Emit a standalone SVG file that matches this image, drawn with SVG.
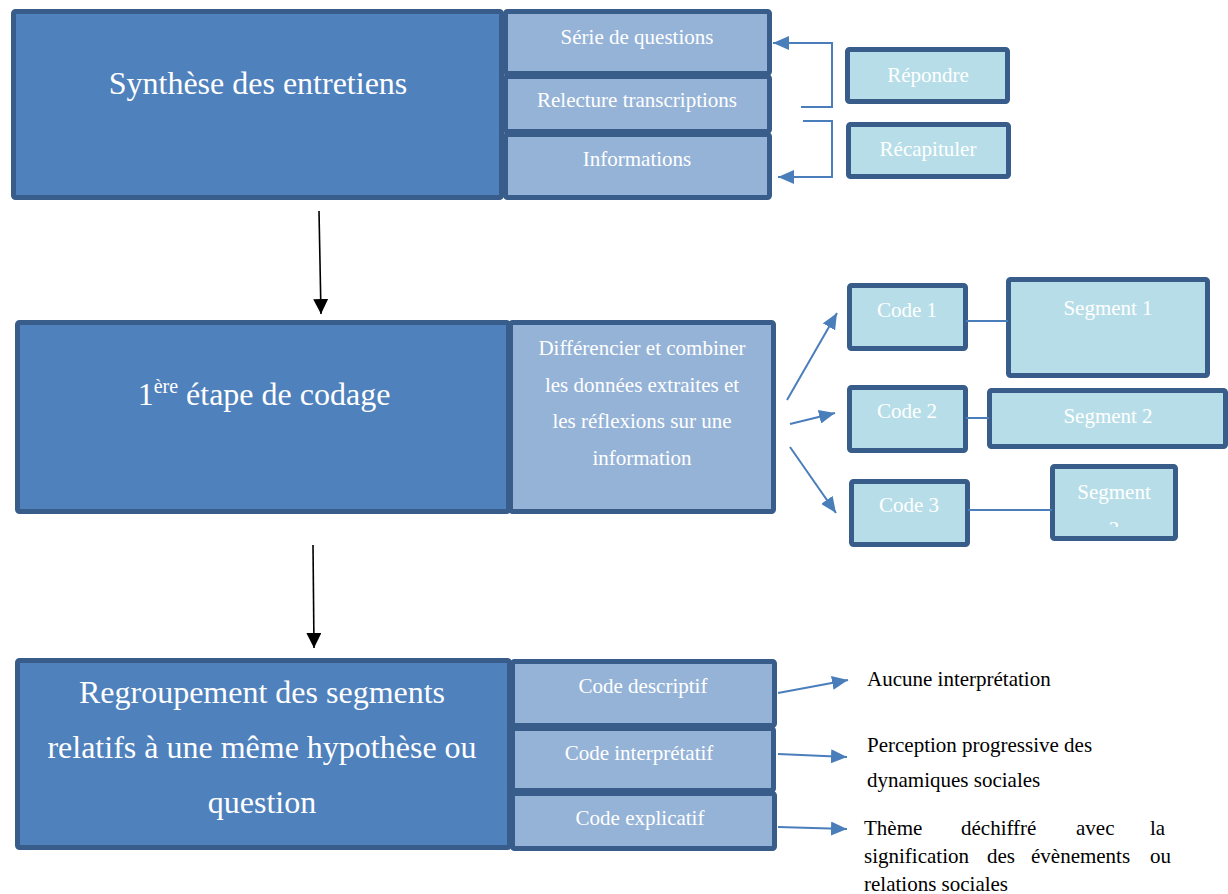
<svg xmlns="http://www.w3.org/2000/svg" width="1228" height="894" viewBox="0 0 1228 894">
<defs>
<style>
.main{fill:#4F81BD;stroke:#385D8A;stroke-width:5}
.sub{fill:#95B3D7;stroke:#385D8A;stroke-width:5}
.lite{fill:#B7DEE8;stroke:#385D8A;stroke-width:5}
text{font-family:"Liberation Serif","Times New Roman",serif}
.big{font-size:32px;fill:#FFFFFF;text-anchor:middle}
.wt{font-size:21px;fill:#FFFFFF;text-anchor:middle}
.bk{font-size:21px;fill:#000000}
.blue{stroke:#4A7EBB;stroke-width:2;fill:none}
.blk{stroke:#000000;stroke-width:1.6;fill:none}
</style>
<marker id="ab" viewBox="0 0 16 14" markerWidth="16" markerHeight="14" refX="16" refY="7" orient="auto" markerUnits="userSpaceOnUse">
<path d="M0,0 L16,7 L0,14 z" fill="#4A7EBB"/>
</marker>
<marker id="ak" viewBox="0 0 15 15" markerWidth="15" markerHeight="15" refX="15" refY="7.5" orient="auto" markerUnits="userSpaceOnUse">
<path d="M0,0 L15,7.5 L0,15 z" fill="#000000"/>
</marker>
<clipPath id="seg3clip"><rect x="1050" y="464" width="130" height="63"/></clipPath>
</defs>

<g id="synthese">
<rect class="main" x="13.5" y="11.5" width="488" height="186" rx="2"/>
<text class="big" x="258" y="94">Synthèse des entretiens</text>
</g>
<g id="serie">
<rect class="sub" x="505.5" y="11.5" width="264" height="62" rx="2"/>
<text class="wt" x="637" y="44">Série de questions</text>
</g>
<g id="relecture">
<rect class="sub" x="505.5" y="76.5" width="264" height="55" rx="2"/>
<text class="wt" x="637" y="107">Relecture transcriptions</text>
</g>
<g id="informations">
<rect class="sub" x="505.5" y="134.5" width="264" height="63" rx="2"/>
<text class="wt" x="637" y="166">Informations</text>
</g>
<g id="repondre">
<rect class="lite" x="847.5" y="49.5" width="160" height="52" rx="2"/>
<text class="wt" x="928" y="82">Répondre</text>
</g>
<g id="recapituler">
<rect class="lite" x="848.5" y="124.5" width="160" height="52" rx="2"/>
<text class="wt" x="928" y="156">Récapituler</text>
</g>

<g id="etape1">
<rect class="main" x="17.5" y="322.5" width="491" height="189" rx="2"/>
<text class="big" x="264" y="405">1<tspan font-size="20" dy="-12">ère</tspan><tspan dy="12"> étape de codage</tspan></text>
</g>
<g id="differencier">
<rect class="sub" x="510.5" y="322.5" width="263" height="189" rx="2"/>
<text class="wt" x="642" y="355">Différencier et combiner</text>
<text class="wt" x="642" y="392">les données extraites et</text>
<text class="wt" x="642" y="428">les réflexions sur une</text>
<text class="wt" x="642" y="465">information</text>
</g>
<g id="code1">
<rect class="lite" x="849.5" y="285.5" width="116" height="63" rx="2"/>
<text class="wt" x="907" y="317">Code 1</text>
</g>
<g id="code2">
<rect class="lite" x="849.5" y="387.5" width="116" height="63" rx="2"/>
<text class="wt" x="907" y="418">Code 2</text>
</g>
<g id="code3">
<rect class="lite" x="851.5" y="481.5" width="116" height="63" rx="2"/>
<text class="wt" x="909" y="512">Code 3</text>
</g>
<g id="segment1">
<rect class="lite" x="1008.5" y="279.5" width="199" height="96" rx="2"/>
<text class="wt" x="1108" y="315">Segment 1</text>
</g>
<g id="segment2">
<rect class="lite" x="989.5" y="390.5" width="236" height="56" rx="2"/>
<text class="wt" x="1108" y="423">Segment 2</text>
</g>
<g id="segment3">
<rect class="lite" x="1052.5" y="466.5" width="123" height="72" rx="2"/>
<text class="wt" x="1114" y="499">Segment</text>
<text class="wt" x="1114" y="536" clip-path="url(#seg3clip)">3</text>
</g>

<g id="regroupement">
<rect class="main" x="17.5" y="660.5" width="492" height="187" rx="2"/>
<text class="big" x="262" y="703">Regroupement des segments</text>
<text class="big" x="262" y="758">relatifs à une même hypothèse ou</text>
<text class="big" x="262" y="813">question</text>
</g>
<g id="descriptif">
<rect class="sub" x="512.5" y="661.5" width="262" height="64" rx="2"/>
<text class="wt" x="643" y="693">Code descriptif</text>
</g>
<g id="interpretatif">
<rect class="sub" x="512.5" y="728.5" width="261" height="62" rx="2"/>
<text class="wt" x="639" y="760">Code interprétatif</text>
</g>
<g id="explicatif">
<rect class="sub" x="512.5" y="793.5" width="262" height="55" rx="2"/>
<text class="wt" x="640" y="825">Code explicatif</text>
</g>

<g id="labels">
<text class="bk" x="867" y="686">Aucune interprétation</text>
<text class="bk" x="867" y="752">Perception progressive des</text>
<text class="bk" x="867" y="787">dynamiques sociales</text>
<text class="bk" y="835"><tspan x="864">Thème</tspan><tspan x="961">déchiffré</tspan><tspan x="1076">avec</tspan><tspan x="1150">la</tspan></text>
<text class="bk" y="863"><tspan x="864">signification</tspan><tspan x="987">des</tspan><tspan x="1031">évènements</tspan><tspan x="1150">ou</tspan></text>
<text class="bk" x="864" y="891">relations sociales</text>
</g>

<g id="connectors">
<path class="blue" d="M801,107 H832 V43 H773" marker-end="url(#ab)"/>
<path class="blue" d="M803,121 H832 V177 H778" marker-end="url(#ab)"/>
<line class="blk" x1="319" y1="211" x2="321" y2="314" marker-end="url(#ak)"/>
<line class="blk" x1="313" y1="545" x2="314" y2="648" marker-end="url(#ak)"/>
<line class="blue" x1="787" y1="400" x2="837" y2="313" marker-end="url(#ab)"/>
<line class="blue" x1="790" y1="424" x2="835" y2="413" marker-end="url(#ab)"/>
<line class="blue" x1="790" y1="447" x2="836" y2="513" marker-end="url(#ab)"/>
<line class="blue" x1="966" y1="321" x2="1008" y2="321"/>
<line class="blue" x1="966" y1="418" x2="989" y2="418"/>
<line class="blue" x1="968" y1="510" x2="1052" y2="510"/>
<line class="blue" x1="778" y1="693" x2="848" y2="680" marker-end="url(#ab)"/>
<line class="blue" x1="778" y1="754" x2="847" y2="757" marker-end="url(#ab)"/>
<line class="blue" x1="778" y1="827" x2="847" y2="829" marker-end="url(#ab)"/>
</g>
</svg>
